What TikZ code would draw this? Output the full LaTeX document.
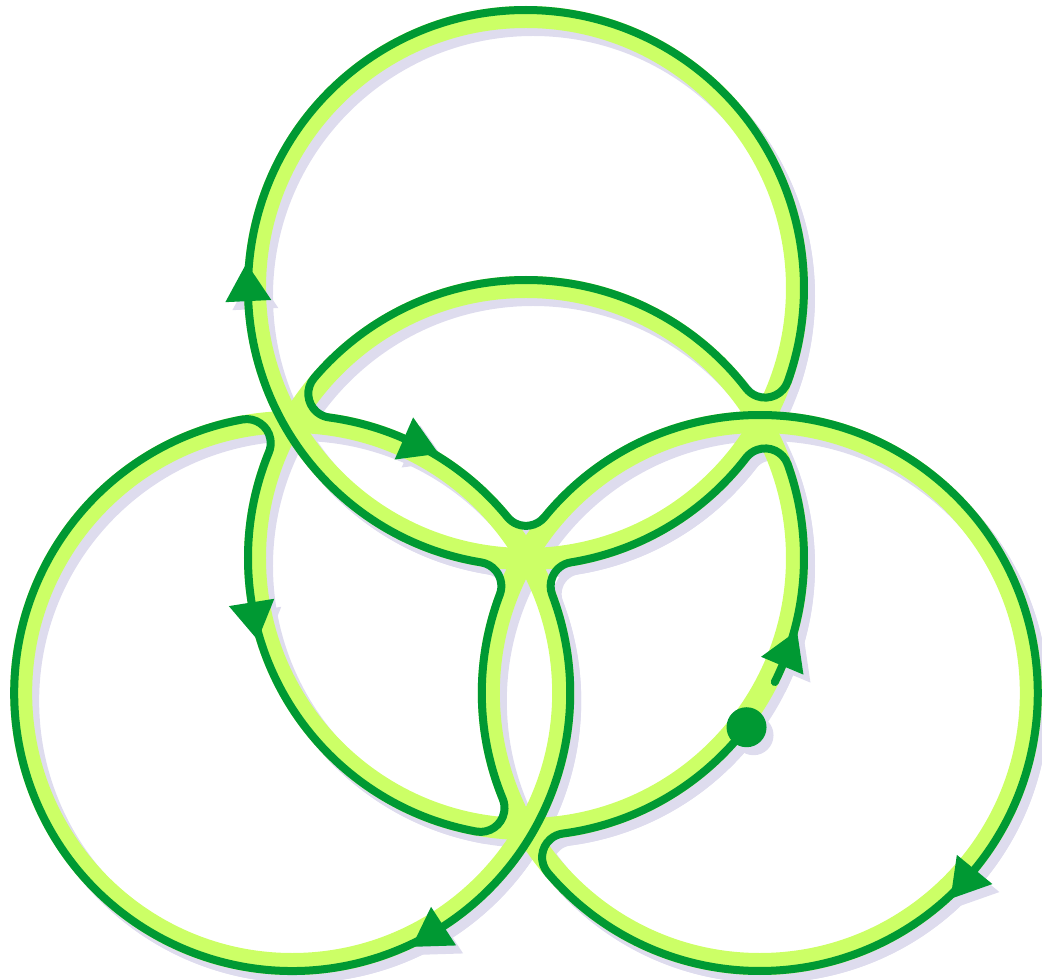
\documentclass[tikz,border=0pt]{standalone}
\definecolor{dkgreen}{HTML}{009933}
\definecolor{ltgreen}{HTML}{CCFF66}
\definecolor{shadowc}{HTML}{DEDCEE}
\tikzset{
  band/.style={line width=22pt},
  trail/.style={line width=8pt, line cap=round, line join=round},
}
% #1 colour, #2/#3 circle centre, #4 angle on circle, #5 heading
\newcommand{\arrowmark}[5]{%
  \fill[#1, shift={(#2,#3)}, shift={(#4:278pt)}, rotate=#5] (0,23) -- (0,-23) -- (38,0) -- cycle;}
% #1 line colour, #2 band colour
\newcommand{\drawknot}[2]{%
  \foreach \cx/\cy in {0/0, 0/270, -233.83/-135, 233.83/-135}
    \draw[#2, band] (\cx,\cy) circle[radius=271pt];
  \draw[#1, trail] (-26.5:278pt)
    arc[start angle=-26.5, end angle=19.69, radius=278pt]
    arc[start angle=19.69, end angle=142.37, radius=24pt]
    arc[start angle=-37.63, end angle=-80.73, radius=278pt]
    arc[start angle=99.27, end angle=200.73, radius=24pt]
    arc[start angle=20.73, end angle=-259.69, radius=278pt]
    arc[start angle=100.31, end angle=-22.37, radius=24pt]
    arc[start angle=157.63, end angle=259.69, radius=278pt]
    arc[start angle=259.69, end angle=382.37, radius=24pt]
    arc[start angle=202.37, end angle=159.27, radius=278pt]
    arc[start angle=339.27, end angle=440.73, radius=24pt]
    arc[start angle=260.73, end angle=-19.69, radius=278pt]
    arc[start angle=-19.69, end angle=-142.37, radius=24pt]
    arc[start angle=37.63, end angle=139.69, radius=278pt]
    arc[start angle=139.69, end angle=262.37, radius=24pt]
    arc[start angle=82.37, end angle=39.27, radius=278pt]
    arc[start angle=219.27, end angle=320.73, radius=24pt]
    arc[start angle=140.73, end angle=-139.69, radius=278pt]
    arc[start angle=220.31, end angle=97.63, radius=24pt]
    arc[start angle=277.63, end angle=322.5, radius=278pt];
  \arrowmark{#1}{0}{0}{-22.8}{67.2}
  \arrowmark{#1}{0}{270}{182.7}{92.7}
  \arrowmark{#1}{-233.83}{-135}{66.3}{-23.7}
  \arrowmark{#1}{0}{0}{189.2}{279.2}
  \arrowmark{#1}{-233.83}{-135}{-57}{-147}
  \arrowmark{#1}{233.83}{-135}{-39.4}{-129.4}
  \fill[#1] (-37.5:278pt) circle[radius=20pt];
}
\begin{document}
\begin{tikzpicture}[x=1pt,y=1pt]
\useasboundingbox (-526,-422) rectangle (516,558);
\begin{scope}[shift={(7,-8)}]
  \drawknot{shadowc}{shadowc}
\end{scope}
\drawknot{dkgreen}{ltgreen}
\end{tikzpicture}
\end{document}
